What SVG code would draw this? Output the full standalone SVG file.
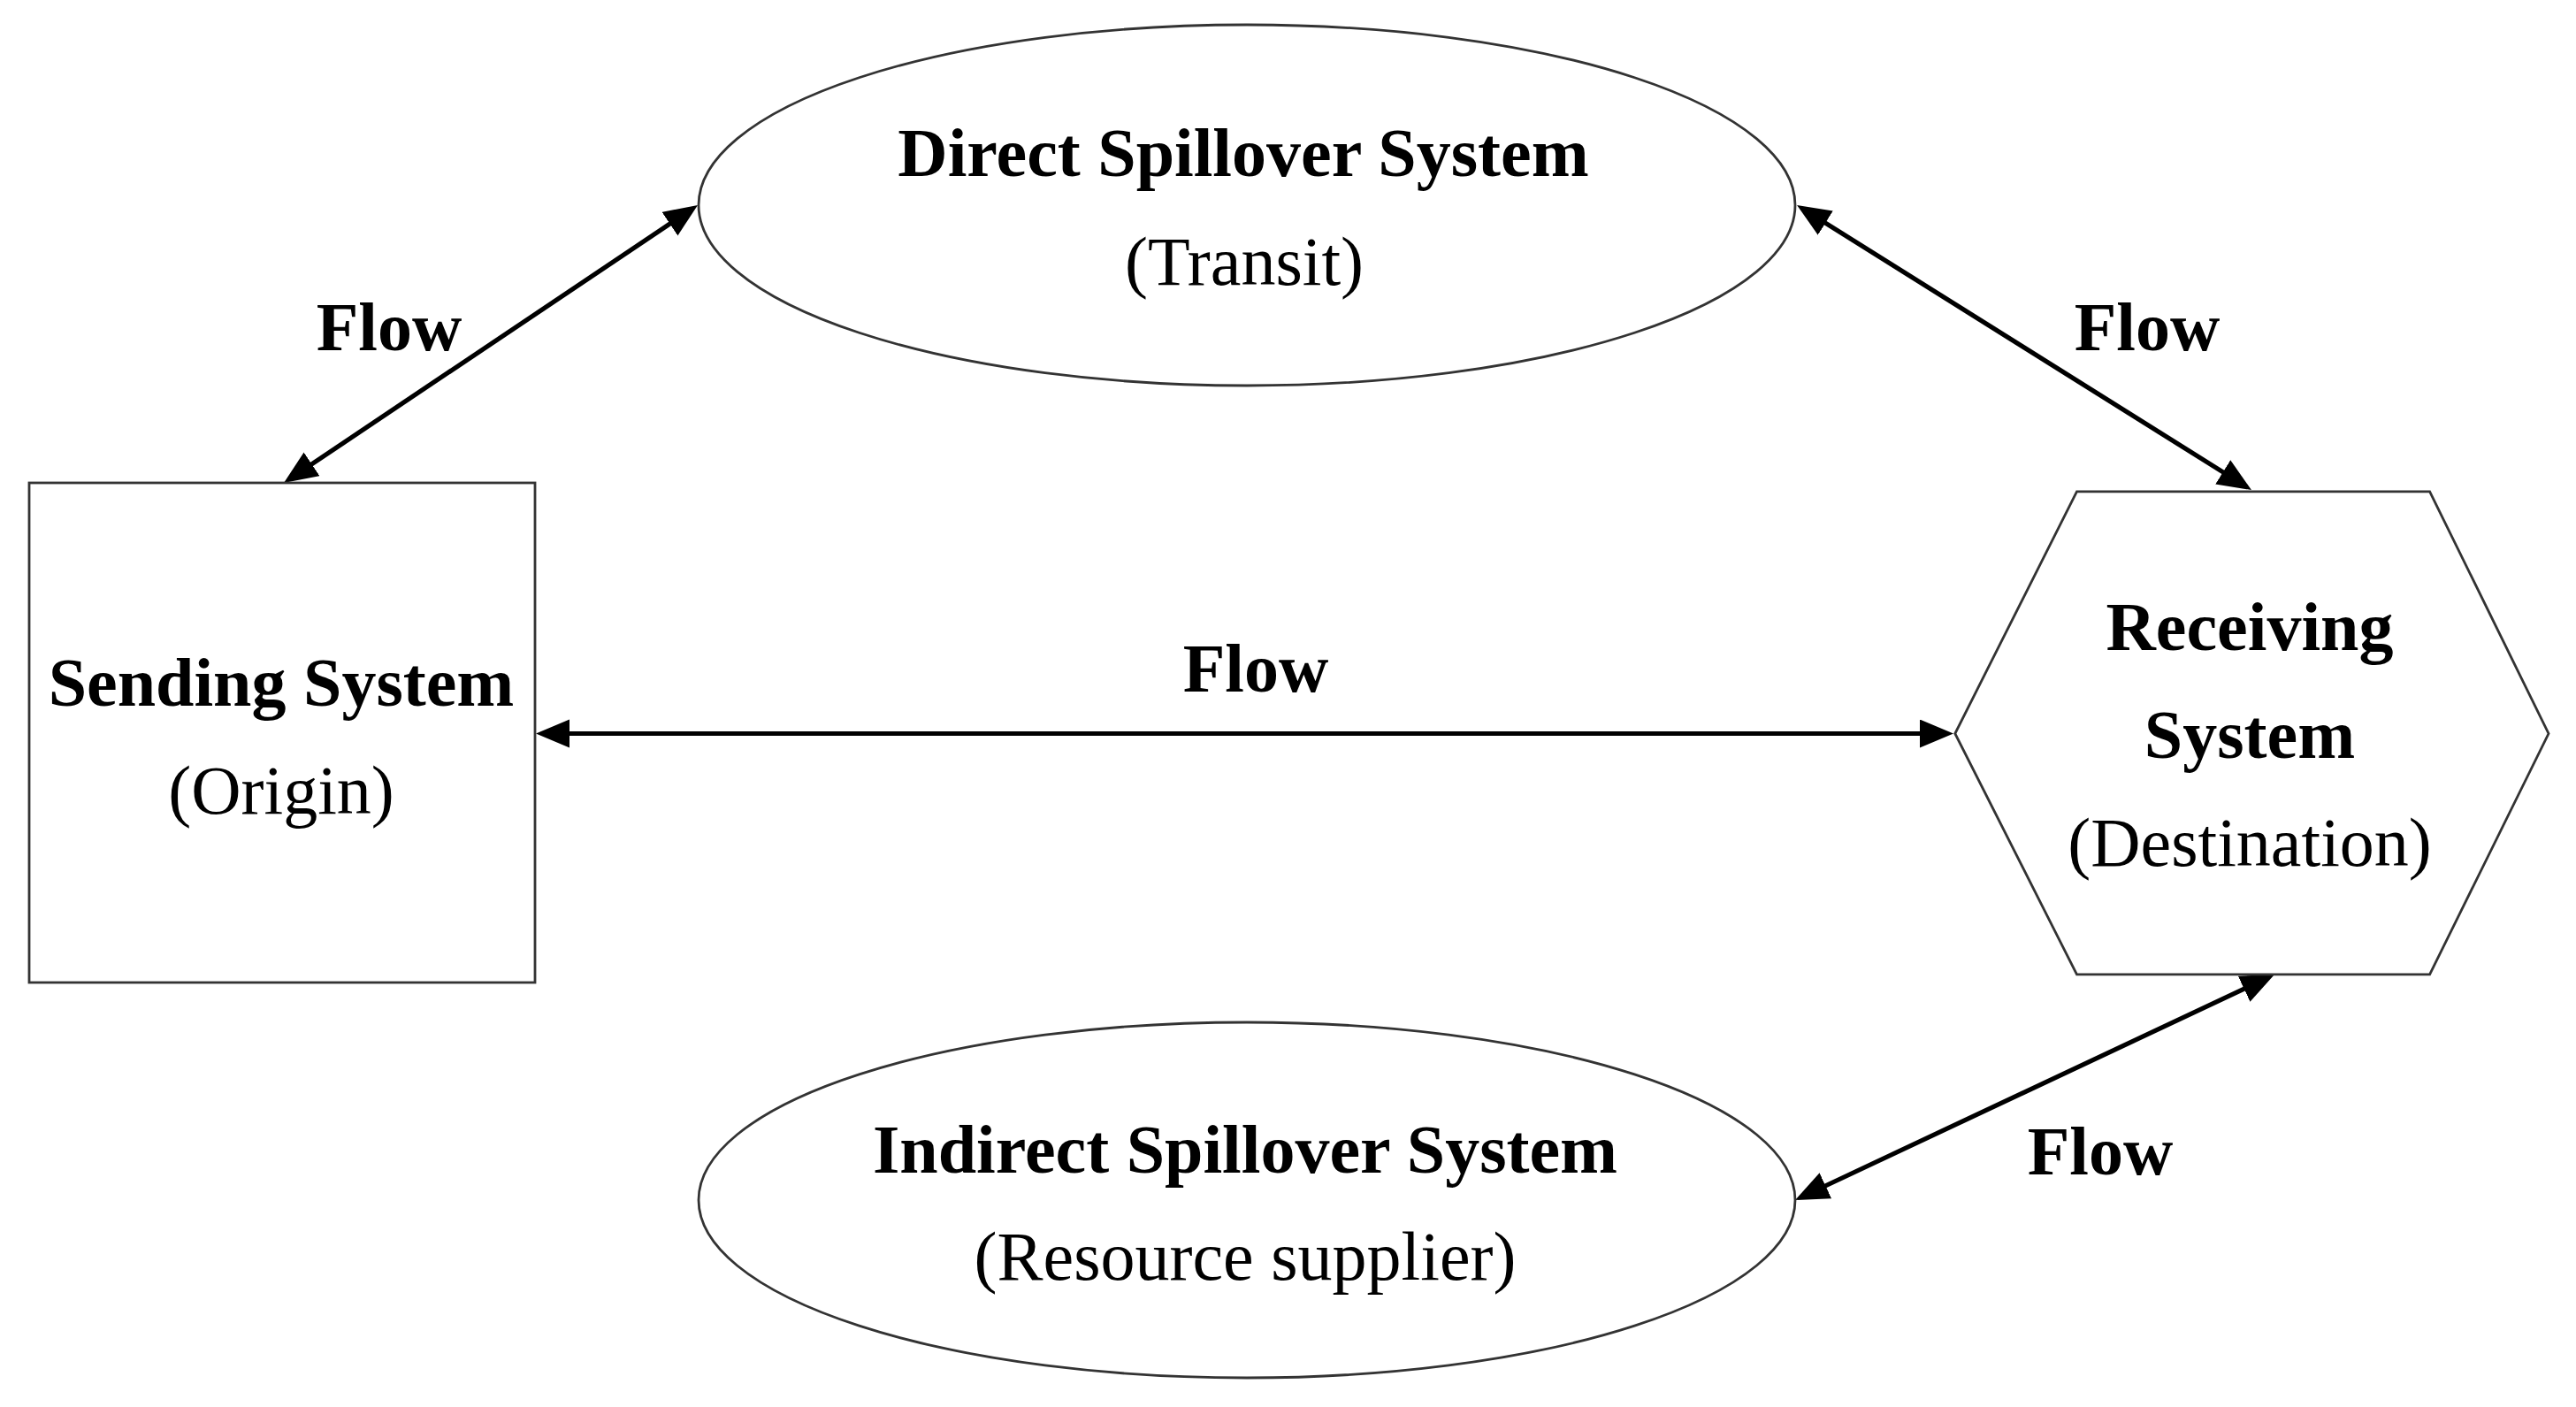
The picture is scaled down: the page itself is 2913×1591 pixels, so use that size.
<svg xmlns="http://www.w3.org/2000/svg" width="2913" height="1591" viewBox="0 0 2913 1591">
<style>
.shape{fill:#fff;stroke:#333;stroke-width:2.8}
.t{font-family:"Liberation Serif","Times New Roman",serif;font-size:78px;fill:#000;text-anchor:middle}
.b{font-weight:bold}
.conn{stroke:#000;stroke-width:5.2;fill:none;marker-start:url(#ah);marker-end:url(#ah)}
</style>
<defs>
<marker id="ah" markerUnits="userSpaceOnUse" markerWidth="42" markerHeight="36" refX="18" refY="16" orient="auto-start-reverse" viewBox="0 0 42 36">
<path d="M0,0 L38,16 L0,32 z" fill="#000"/>
</marker>
</defs>
<rect width="2913" height="1591" fill="#fff"/>
<g id="connectors">
<line class="conn" x1="337.6" y1="534.9" x2="772.4" y2="243.1"/>
<line class="conn" x1="2049" y1="242.6" x2="2529" y2="543.4"/>
<line class="conn" x1="626" y1="829.5" x2="2189" y2="829.5"/>
<line class="conn" x1="2048.1" y1="1348.5" x2="2553.9" y2="1110.5"/>
<text class="t b" x="440" y="396">Flow</text>
<text class="t b" x="2428" y="396">Flow</text>
<text class="t b" x="1420" y="782">Flow</text>
<text class="t b" x="2375" y="1328">Flow</text>
</g>
<g id="direct">
<ellipse class="shape" cx="1410" cy="232" rx="620" ry="204"/>
<text class="t b" x="1406" y="199">Direct Spillover System</text>
<text class="t" x="1407" y="322">(Transit)</text>
</g>
<g id="sending">
<rect class="shape" x="33" y="546" width="572" height="565"/>
<text class="t b" x="318" y="798">Sending System</text>
<text class="t" x="318" y="920">(Origin)</text>
</g>
<g id="receiving">
<polygon class="shape" points="2348.5,555.8 2747.6,555.8 2882,829.5 2747.6,1101.8 2348.5,1101.8 2210.8,829.5"/>
<text class="t b" x="2544" y="735">Receiving</text>
<text class="t b" x="2544" y="857">System</text>
<text class="t" x="2544" y="979">(Destination)</text>
</g>
<g id="indirect">
<ellipse class="shape" cx="1410" cy="1357" rx="620" ry="201"/>
<text class="t b" x="1408" y="1326">Indirect Spillover System</text>
<text class="t" x="1408" y="1447">(Resource supplier)</text>
</g>
</svg>
